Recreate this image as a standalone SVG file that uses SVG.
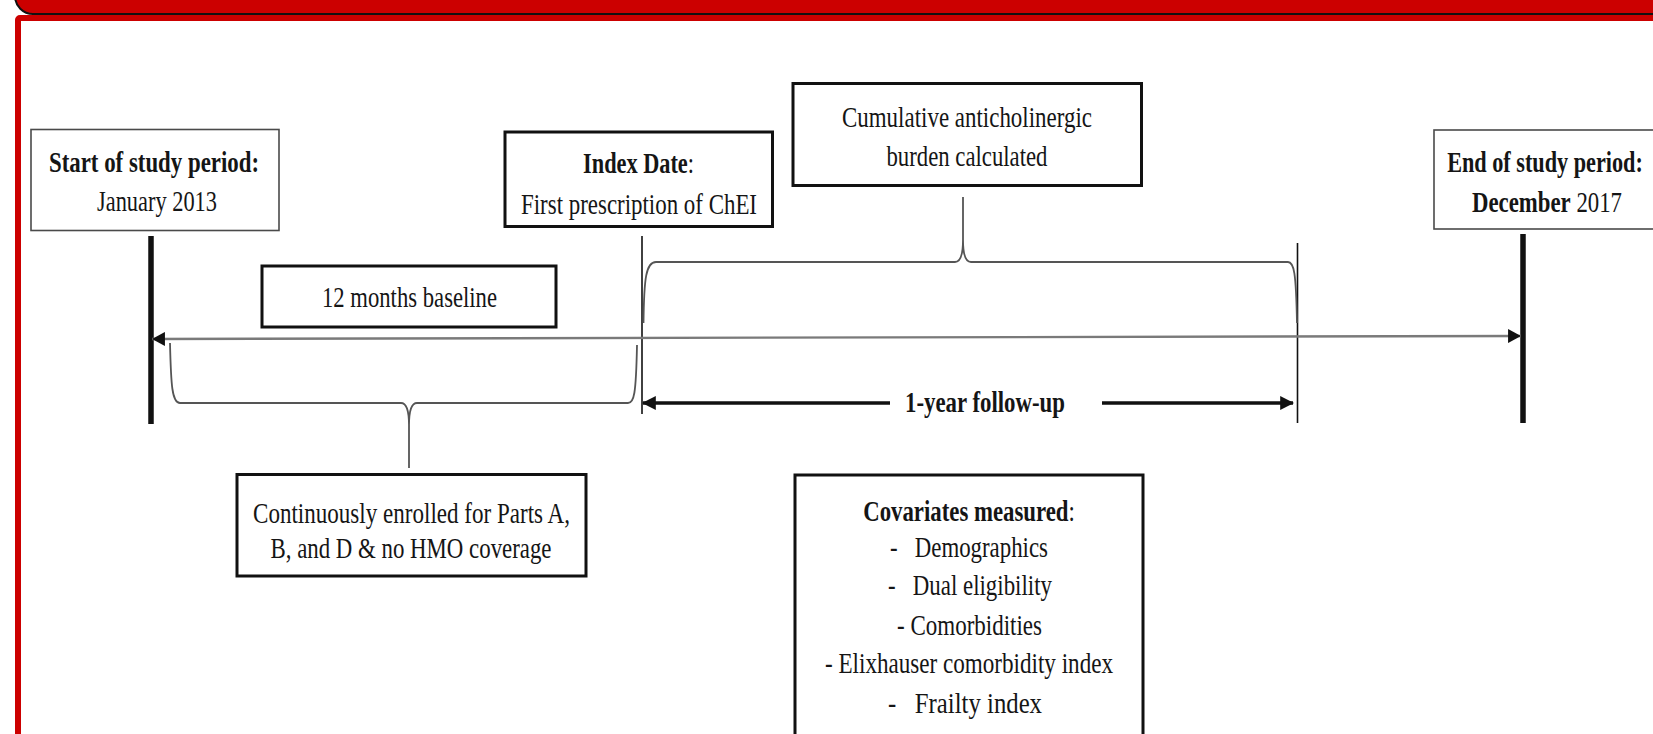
<svg xmlns="http://www.w3.org/2000/svg" width="1653" height="734" viewBox="0 0 1653 734">
<style>
text{font-family:"Liberation Serif","Times New Roman",serif;font-size:28.5px;fill:#151515;text-anchor:middle}
.b{font-weight:bold}
.thin{fill:#fff;stroke:#4a4a4a;stroke-width:1.6}
.thick{fill:#fff;stroke:#111;stroke-width:3}
.brace{fill:none;stroke:#555;stroke-width:1.8}
.vline{stroke:#111;stroke-width:1.6}
.bar{stroke:#111;stroke-width:5.5}
</style>
<defs>
<marker id="ahk" markerUnits="userSpaceOnUse" markerWidth="14" markerHeight="14" viewBox="0 0 12 13" refX="12" refY="6.5" orient="auto-start-reverse">
<path d="M0,0 L12,6.5 L0,13 Z" fill="#111"/>
</marker>
<marker id="ahf" markerUnits="userSpaceOnUse" markerWidth="14" markerHeight="14" viewBox="0 0 12 12" refX="11" refY="6" orient="auto-start-reverse">
<path d="M0,0 L12,6 L0,12 Z" fill="#111"/>
</marker>
</defs>
<rect width="1653" height="734" fill="#fff"/>
<g id="frame">
<rect x="15" y="-40" width="1655" height="54" rx="18" fill="#cc0000" stroke="#111" stroke-width="2"/>
<rect x="18" y="18" width="1700" height="800" rx="2" fill="#fff" stroke="#cc0000" stroke-width="6"/>
</g>
<g id="connectors">
<line class="bar" x1="151" y1="236" x2="151" y2="424"/>
<line class="bar" x1="1523" y1="234" x2="1523" y2="423"/>
<line class="vline" x1="642" y1="236" x2="642" y2="414"/>
<line class="vline" x1="1297.5" y1="243" x2="1297.5" y2="423"/>
<path d="M152,339 L1521,336" stroke="#7a7a7a" stroke-width="2.4" fill="none" marker-start="url(#ahk)" marker-end="url(#ahk)"/>
<path class="brace" d="M170,343 C171,385 172,403 180,403 L401,403 C406,403 409,410 409,425 L409,468 M409,425 C409,410 412,403 417,403 L628,403 C634,403 636,395 637,345"/>
<path class="brace" d="M643.5,323 C644,278 646,262 656,262 L955,262 C960,262 963,255 963,240 L963,197 M963,240 C963,255 966,262 971,262 L1288,262 C1294,262 1296,272 1297,323"/>
<line x1="643" y1="403" x2="890" y2="403" stroke="#111" stroke-width="3.5" marker-start="url(#ahf)"/>
<line x1="1102" y1="403" x2="1293" y2="403" stroke="#111" stroke-width="3.5" marker-end="url(#ahf)"/>
</g>
<g id="start">
<rect class="thin" x="31" y="129.5" width="248" height="101"/>
<text class="b" x="154" y="172" textLength="210" lengthAdjust="spacingAndGlyphs">Start of study period:</text>
<text x="157" y="211" textLength="120" lengthAdjust="spacingAndGlyphs">January 2013</text>
</g>
<g id="index">
<rect class="thick" x="505" y="132" width="267.5" height="94.5"/>
<text transform="translate(638.5,173) scale(0.783,1)"><tspan class="b">Index Date</tspan>:</text>
<text x="639" y="214" textLength="236" lengthAdjust="spacingAndGlyphs">First prescription of ChEI</text>
</g>
<g id="cumulative">
<rect class="thick" x="793" y="83.5" width="348.5" height="102"/>
<text x="967" y="127" textLength="250" lengthAdjust="spacingAndGlyphs">Cumulative anticholinergic</text>
<text x="967" y="166" textLength="161" lengthAdjust="spacingAndGlyphs">burden calculated</text>
</g>
<g id="end">
<rect class="thin" x="1434" y="130" width="260" height="99"/>
<text class="b" transform="translate(1545,172) scale(0.78,1)">End of study period:</text>
<text transform="translate(1547,212) scale(0.8,1)"><tspan class="b">December</tspan> 2017</text>
</g>
<g id="baseline">
<rect class="thick" x="262" y="266" width="294" height="61"/>
<text x="409.5" y="307" textLength="175" lengthAdjust="spacingAndGlyphs">12 months baseline</text>
</g>
<g id="followup">
<text class="b" x="985" y="412" textLength="160" lengthAdjust="spacingAndGlyphs">1-year follow-up</text>
</g>
<g id="enrolled">
<rect class="thick" x="237" y="474.5" width="349" height="101.5"/>
<text x="411.5" y="523" textLength="317" lengthAdjust="spacingAndGlyphs">Continuously enrolled for Parts A,</text>
<text x="411" y="558" textLength="281" lengthAdjust="spacingAndGlyphs">B, and D &amp; no HMO coverage</text>
</g>
<g id="covariates">
<rect class="thick" x="795" y="475" width="348" height="262"/>
<text transform="translate(969,521) scale(0.8,1)"><tspan class="b">Covariates measured</tspan>:</text>
<text x="969" y="557" xml:space="preserve" textLength="158" lengthAdjust="spacingAndGlyphs">-   Demographics</text>
<text x="970" y="595" xml:space="preserve" textLength="164" lengthAdjust="spacingAndGlyphs">-   Dual eligibility</text>
<text x="969.5" y="635" textLength="145" lengthAdjust="spacingAndGlyphs">- Comorbidities</text>
<text x="969" y="673" textLength="288" lengthAdjust="spacingAndGlyphs">- Elixhauser comorbidity index</text>
<text x="965" y="713" xml:space="preserve" textLength="154" lengthAdjust="spacingAndGlyphs">-   Frailty index</text>
</g>
</svg>
